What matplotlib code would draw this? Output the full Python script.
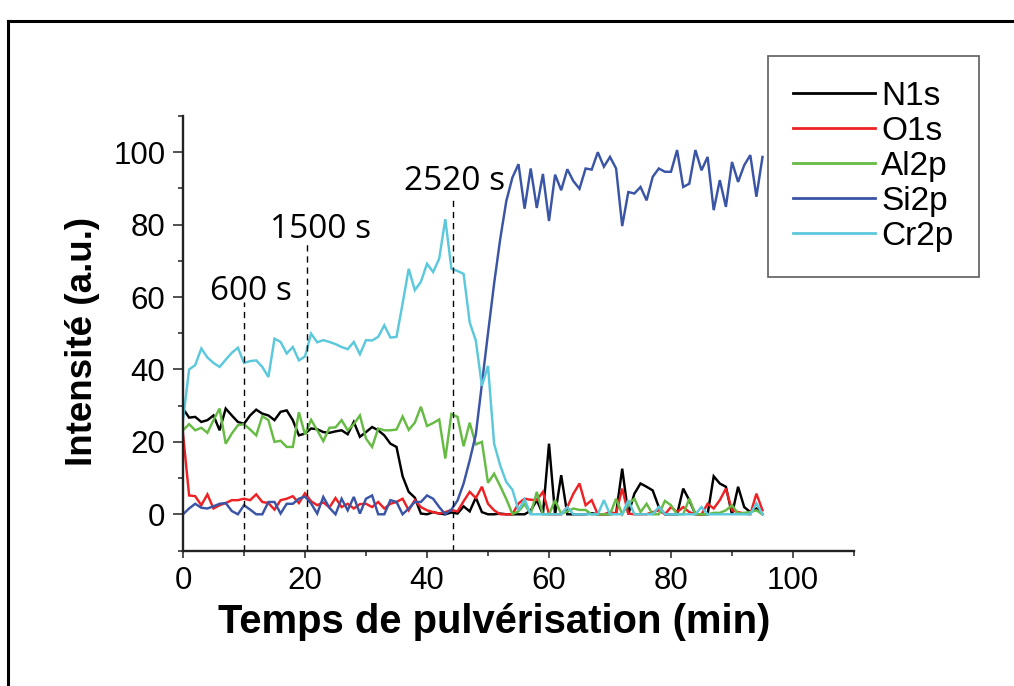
import numpy as np
import matplotlib
matplotlib.use("Agg")
import matplotlib.pyplot as plt
from matplotlib.lines import Line2D
from matplotlib.ticker import MultipleLocator

# ---------------- data ----------------
time_min = np.arange(0, 96)  # sampling grid, 1 min step

n1s = [29.2, 26.7, 26.9, 25.5, 26.0, 27.3, 23.2, 29.2, 27.3, 25.5,
       25.0, 27.3, 28.9, 27.8, 27.3, 26.0, 28.3, 28.7, 26.0, 21.8,
       22.3, 23.7, 23.5, 22.7, 22.5, 22.9, 23.2, 22.1, 25.5, 21.4,
       22.7, 24.1, 23.2, 21.8, 19.5, 18.6, 10.5, 6.2, 4.6, 0.2,
       0.0, 0.6, 0.2, 0.0, 0.5, 0.2, 2.2, 0.8, 4.6, 0.6,
       0.0, 0.0, 0.2, 0.0, 0.0, 0.0, 0.0, 1.0, 3.9, 0.0,
       19.5, 0.0, 10.8, 0.0, 0.0, 0.0, 0.0, 0.3, 0.0, 0.0,
       0.0, 0.2, 12.6, 0.0, 5.7, 8.5, 7.6, 6.6, 2.0, 0.0,
       0.0, 0.0, 7.1, 3.9, 0.0, 0.0, 0.0, 10.5, 8.5, 7.6,
       0.0, 7.6, 2.0, 0.6, 1.6, 0.0]

o1s = [22.3, 5.2, 5.0, 2.5, 5.5, 1.6, 2.5, 3.1, 3.9, 3.9,
       4.3, 3.9, 5.5, 3.4, 3.1, 1.3, 3.9, 4.3, 5.0, 3.1,
       5.8, 3.6, 2.5, 3.3, 1.9, 4.5, 2.0, 2.9, 1.6, 2.8,
       2.9, 2.0, 3.4, 1.6, 2.9, 3.4, 4.3, 1.1, 3.9, 2.0,
       1.1, 0.6, 0.2, 0.6, 1.2, 0.8, 3.6, 6.2, 4.5, 7.6,
       2.9, 1.1, 0.0, 0.0, 0.0, 3.0, 4.3, 4.0, 3.9, 6.2,
       0.0, 0.0, 0.0, 2.0, 5.7, 8.5, 2.5, 3.9, 0.0, 0.0,
       0.6, 0.2, 7.1, 0.2, 0.0, 0.0, 0.0, 0.6, 1.1, 0.0,
       2.0, 0.6, 2.0, 0.6, 0.0, 0.0, 2.9, 1.6, 3.9, 7.1,
       1.1, 0.6, 0.2, 0.0, 5.7, 1.1]

al2p = [23.2, 24.9, 23.2, 23.9, 22.5, 26.0, 29.2, 19.5, 22.3, 24.6,
        24.9, 23.4, 21.8, 27.1, 26.0, 20.0, 20.3, 18.6, 18.6, 28.2,
        22.0, 26.1, 23.2, 20.2, 23.9, 24.0, 26.0, 23.2, 24.9, 27.3,
        20.9, 18.6, 23.7, 23.2, 23.2, 23.4, 27.0, 23.3, 25.3, 29.7,
        24.4, 25.2, 26.2, 15.4, 27.7, 26.9, 18.8, 25.3, 19.3, 20.0,
        8.7, 11.2, 7.8, 4.2, 0.1, 0.8, 2.8, 0.1, 6.2, 0.0,
        0.0, 3.9, 0.1, 0.8, 1.6, 1.2, 1.2, 0.0, 0.0, 0.0,
        0.0, 4.3, 0.0, 2.9, 4.3, 0.6, 2.9, 0.0, 0.0, 3.7,
        2.5, 0.0, 0.0, 4.3, 0.0, 0.0, 0.0, 0.4, 0.4, 1.1,
        2.5, 0.2, 0.4, 0.6, 1.1, 0.0]

si2p = [0.0, 1.6, 2.9, 1.8, 1.6, 2.2, 2.9, 3.1, 0.9, 0.0,
        2.5, 1.3, 0.0, 0.0, 3.4, 3.4, 0.2, 2.9, 2.9, 4.3,
        4.9, 3.0, 0.2, 4.8, 1.8, 0.0, 4.3, 1.1, 4.8, 0.2,
        4.3, 5.2, 0.0, 0.0, 3.9, 3.4, 0.0, 1.6, 3.4, 3.4,
        5.2, 4.3, 2.0, 0.0, 1.3, 3.8, 8.5, 14.9, 22.0, 36.0,
        50.0, 63.7, 76.0, 86.5, 93.0, 96.7, 84.4, 95.5, 84.6, 94.0,
        81.0, 93.8, 89.5, 95.3, 92.0, 89.9, 95.5, 95.2, 100.0, 96.0,
        98.7, 95.5, 79.6, 89.0, 88.6, 90.4, 86.7, 93.2, 95.5, 94.6,
        94.6, 100.6, 90.4, 91.3, 100.6, 95.0, 98.7, 84.0, 92.3, 84.9,
        97.3, 91.8, 96.4, 99.2, 87.7, 98.7]

cr2p = [26.0, 40.0, 41.2, 45.8, 43.3, 41.8, 40.7, 42.7, 44.6, 46.0,
        41.8, 42.3, 42.5, 40.7, 37.9, 48.5, 47.6, 44.4, 46.2, 42.5,
        43.6, 49.9, 47.5, 48.1, 47.6, 47.0, 46.2, 45.6, 47.6, 44.2,
        48.1, 48.0, 49.0, 52.2, 48.8, 49.0, 58.2, 67.8, 61.9, 64.2,
        69.2, 66.9, 70.6, 81.5, 67.8, 67.2, 66.4, 53.0, 48.0, 35.5,
        41.0, 19.5, 13.5, 8.9, 6.8, 1.1, 4.1, 0.0, 0.0, 0.0,
        0.0, 0.0, 0.0, 2.0, 0.0, 0.0, 0.0, 0.0, 0.0, 3.9,
        0.0, 0.0, 0.0, 3.9, 0.0, 0.0, 0.0, 0.0, 2.0, 0.0,
        0.0, 0.0, 0.0, 0.0, 0.0, 2.0, 0.0, 0.0, 0.0, 0.0,
        0.0, 0.0, 0.0, 0.0, 3.0, 0.0]

series_names = ["N1s", "O1s", "Al2p", "Si2p", "Cr2p"]
series_colors = ["#000000", "#ee2124", "#66bb44", "#3a54a6", "#5cc8dc"]

marker_times = [10.05, 20.4, 44.3]
marker_tops = [58.5, 75.5, 88.0]
marker_labels = ["600 s", "1500 s", "2520 s"]
label_pos = [(4.4, 59.2), (14.2, 76.3), (36.3, 89.6)]

x_ticks = [0, 20, 40, 60, 80, 100]
y_ticks = [0, 20, 40, 60, 80, 100]

# ---------------- figure ----------------
W, H = 1014, 686
fig = plt.figure(figsize=(W / 100, H / 100), dpi=100)
fig.patch.set_facecolor("white")
ax = fig.add_axes([183 / W, 1 - 550.5 / H, 671 / W, 434.5 / H])

for name, col, vals in zip(series_names, series_colors, [n1s, o1s, al2p, si2p, cr2p]):
    ax.plot(time_min, vals, color=col, lw=1.75, label=name, solid_joinstyle="miter")

# dashed markers
for t, top in zip(marker_times, marker_tops):
    ax.plot([t, t], [-10, top], color="black", lw=1.0, ls=(0, (4.5, 3.5)))
for (lx, ly), txt in zip(label_pos, marker_labels):
    ax.text(lx, ly, txt, fontsize=24, family=["Open Sans", "DejaVu Sans"],
            ha="left", va="baseline", color="black")

ax.set_xlim(0, 110)
ax.set_ylim(-10, 110)
ax.set_xticks(x_ticks)
ax.set_yticks(y_ticks)
ax.xaxis.set_minor_locator(MultipleLocator(10))
ax.yaxis.set_minor_locator(MultipleLocator(10))

for s in ["top", "right"]:
    ax.spines[s].set_visible(False)
for s in ["left", "bottom"]:
    ax.spines[s].set_linewidth(1.7)
    ax.spines[s].set_color("#222222")

ax.tick_params(axis="y", which="major", direction="out", length=7.2, width=1.1,
               pad=5.5, labelsize=22.5, colors="#222222", labelcolor="black")
ax.tick_params(axis="y", which="minor", direction="out", length=3.8, width=1.1, colors="#222222")
ax.tick_params(axis="x", which="major", direction="out", length=5.0, width=1.1,
               pad=6.5, labelsize=22.5, colors="#222222", labelcolor="black")
ax.tick_params(axis="x", which="minor", direction="out", length=3.8, width=1.1, colors="#222222")
for lab in ax.get_xticklabels() + ax.get_yticklabels():
    lab.set_family(["Liberation Sans", "DejaVu Sans"])

fig.text(494 / W, 1 - 633 / H, "Temps de pulvérisation (min)", fontsize=28.8,
         fontweight="bold", family=["Liberation Sans", "DejaVu Sans"],
         ha="center", va="baseline")
fig.text(82 / W, 1 - 341 / H, "Intensité (a.u.)", fontsize=26.5, rotation=90,
         fontweight="bold", family=["Liberation Sans", "DejaVu Sans"],
         ha="center", va="center")

leg = ax.legend(loc="upper left", bbox_to_anchor=(768 / W, 1 - 56 / H),
                bbox_transform=fig.transFigure, frameon=True, fancybox=False,
                prop={"family": ["Liberation Sans", "DejaVu Sans"], "size": 24},
                handlelength=2.45, handletextpad=0.2, labelspacing=0.12,
                borderpad=0.75, borderaxespad=0)
leg.get_frame().set_edgecolor("#333333")
leg.get_frame().set_linewidth(1.2)
for h in leg.get_lines():
    h.set_linewidth(2.0)

# outer border (left and top)
fig.add_artist(Line2D([8 / W, 8 / W], [0, 1 - 21 / H], transform=fig.transFigure,
                      color="black", lw=2.2, solid_capstyle="projecting"))
fig.add_artist(Line2D([8 / W, 1], [1 - 21 / H, 1 - 21 / H], transform=fig.transFigure,
                      color="black", lw=2.2, solid_capstyle="projecting"))

fig.savefig("out.png", dpi=100)
